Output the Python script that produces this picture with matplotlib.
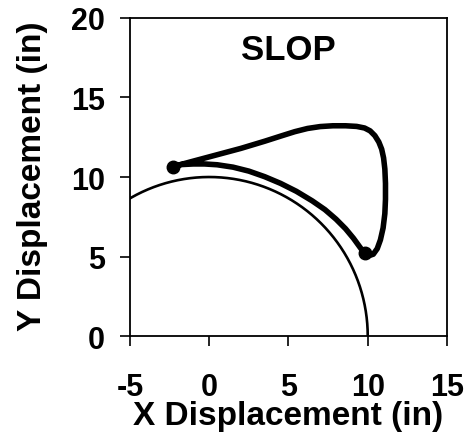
import numpy as np
import matplotlib.pyplot as plt

plt.rcParams['font.family'] = ['Liberation Sans', 'DejaVu Sans']
plt.rcParams['font.weight'] = 'bold'
plt.rcParams['axes.unicode_minus'] = False

# trajectory of the hand (inches)
path_x = [-2.3, -1.8, -1.0, -0.3, 0.5, 1.5, 2.5, 3.5, 4.5, 5.5, 6.5, 7.3, 8.0, 8.6, 9.1, 9.5, 9.8,
          10.05, 10.35, 10.6, 10.8, 10.97, 11.08, 11.12, 11.12, 11.08, 11.0, 10.88, 10.7,
          10.45, 10.15, 9.8, 9.3, 8.6, 7.8, 7.0, 6.2, 5.4, 4.6, 3.5, 2.0, 0.5, -1.0, -2.3]
path_y = [10.65, 10.78, 10.82, 10.82, 10.77, 10.62, 10.37, 10.02, 9.6, 9.1, 8.5, 7.95, 7.35, 6.75, 6.15, 5.6, 5.2,
          5.05, 5.15, 5.5, 6.05, 6.8, 7.7, 8.6, 9.6, 10.5, 11.2, 11.75, 12.2,
          12.6, 12.9, 13.08, 13.18, 13.22, 13.22, 13.17, 13.05, 12.85, 12.6, 12.25, 11.8, 11.4, 11.0, 10.65]
# start / turn points
dot_x = [-2.3, 9.8]
dot_y = [10.65, 5.2]
radius = 10  # reach circle

xticks = [-5, 0, 5, 10, 15]
yticks = [0, 5, 10, 15, 20]

fig = plt.figure(figsize=(4.71, 4.39), dpi=100)
ax = fig.add_axes([0.276, 0.232, 0.673, 0.725])

theta = np.linspace(0, np.pi, 400)
ax.plot(radius * np.cos(theta), radius * np.sin(theta), color='black', lw=1.9)
ax.plot(path_x, path_y, color='black', lw=4, solid_capstyle='round', solid_joinstyle='round')
ax.plot(dot_x, dot_y, 'o', color='black', ms=9)

ax.text(5, 18, 'SLOP', ha='center', va='center', fontsize=25, fontweight='bold')

ax.set_xlim(-5, 15)
ax.set_ylim(0, 20)
ax.set_xticks(xticks)
ax.set_yticks(yticks)
ax.tick_params(direction='out', length=7, width=1.2, labelsize=22)
ax.tick_params(axis='x', pad=19)
ax.tick_params(axis='y', pad=11)
for s in ax.spines.values():
    s.set_linewidth(1.3)

ax.set_xlabel('X Displacement (in)', fontsize=24, fontweight='bold')
ax.set_ylabel('Y Displacement (in)', fontsize=24, fontweight='bold')
ax.xaxis.set_label_coords(0.5, -0.248)
ax.xaxis.label.set_va('center')
ax.yaxis.set_label_coords(-0.306, 0.506)
ax.yaxis.label.set_va('center')

fig.savefig('out.png', dpi=100)
